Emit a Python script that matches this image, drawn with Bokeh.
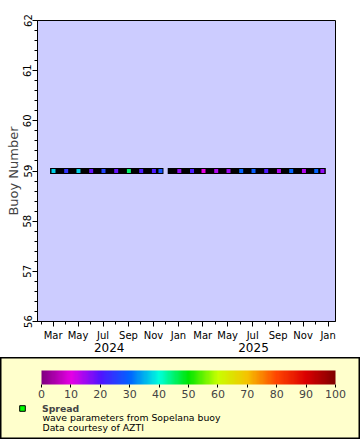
import numpy as np
import pandas as pd
from bokeh.plotting import figure
from bokeh.models import (Range1d, FixedTicker, SingleIntervalTicker, LinearAxis, ColumnDataSource,
                          LinearColorMapper, ColorBar, Legend, LegendItem, Label)
from bokeh.embed import file_html
from bokeh.resources import INLINE

# ---------------- data ----------------
buoy_number = 59
coverage_start = ["2024-03-01", "2024-12-13"]
coverage_end = ["2024-11-18", "2025-12-19"]

sample_dates = ["2024-03-02", "2024-04-02", "2024-05-02", "2024-06-02", "2024-07-02",
                "2024-08-02", "2024-09-02", "2024-10-02", "2024-11-02", "2024-11-18",
                "2025-01-03", "2025-02-03", "2025-03-03", "2025-04-03", "2025-05-03",
                "2025-06-03", "2025-07-03", "2025-08-03", "2025-09-03", "2025-10-03",
                "2025-11-03", "2025-12-03", "2025-12-18"]
spread_values = [37, 24, 37, 19, 26,
                 19, 45, 21, 21, 28,
                 16, 21, 10, 14, 15,
                 30, 29, 21, 14, 30,
                 14, 30, 16]

month_ticks = ["2024-03-01", "2024-05-01", "2024-07-01", "2024-09-01", "2024-11-01", "2025-01-01",
               "2025-03-01", "2025-05-01", "2025-07-01", "2025-09-01", "2025-11-01", "2026-01-01"]
month_labels = ["Mar", "May", "Jul", "Sep", "Nov", "Jan", "Mar", "May", "Jul", "Sep", "Nov", "Jan"]
year_label_dates = ["2024-07-16", "2025-07-03"]
year_labels = ["2024", "2025"]
x_start, x_end = "2024-01-23", "2026-01-19"
y_min, y_max = 56, 62
cbar_ticks = [0, 10, 20, 30, 40, 50, 60, 70, 80, 90, 100]

legend_title = "Spread"
legend_lines = ["wave parameters from Sopelana buoy", "Data courtesy of AZTI"]


def ms(s):
    return int(pd.Timestamp(s).value // 10**6)


# colour palette (styling)
anchor_pos = [0, 10, 20, 30, 40, 50, 60, 70, 80, 90, 100]
anchor_rgb = [(128, 0, 128), (230, 0, 230), (80, 20, 255), (0, 100, 255), (0, 255, 220),
              (0, 230, 0), (200, 255, 0), (245, 195, 0), (255, 70, 0), (220, 0, 0), (128, 0, 0)]
grid = np.linspace(0, 100, 256)
arr = np.array(anchor_rgb, dtype=float)
palette = ["#%02x%02x%02x" % tuple(int(round(np.interp(g, anchor_pos, arr[:, k]))) for k in range(3))
           for g in grid]
mapper = LinearColorMapper(palette=palette, low=0, high=100)

FONT = "DejaVu Sans"

# ---------------- main chart ----------------
p = figure(width=360, height=357, x_axis_type="datetime",
           x_range=Range1d(ms(x_start), ms(x_end)), y_range=Range1d(y_min, y_max),
           background_fill_color="#ccccff", border_fill_color="white",
           output_backend="svg", toolbar_location=None,
           min_border_left=37, min_border_right=25, min_border_top=20, min_border_bottom=36)
p.grid.visible = False
p.outline_line_color = "black"
p.outline_line_width = 1

seg_src = ColumnDataSource(dict(
    x0=pd.to_datetime(coverage_start), x1=pd.to_datetime(coverage_end),
    y=[buoy_number] * len(coverage_start)))
p.segment(x0="x0", y0="y", x1="x1", y1="y", source=seg_src, line_color="black",
          line_width=6, line_cap="square")

pt_src = ColumnDataSource(dict(date=pd.to_datetime(sample_dates), spread=spread_values,
                               buoy=[buoy_number] * len(sample_dates)))
p.scatter(x="date", y="buoy", source=pt_src, marker="square", size=4,
          fill_color={"field": "spread", "transform": mapper}, line_color=None)

# y axis
ya = p.yaxis[0]
ya.ticker = SingleIntervalTicker(interval=1, num_minor_ticks=5)
ya.axis_label = "Buoy Number"
ya.axis_label_text_font = FONT
ya.axis_label_text_font_style = "normal"
ya.axis_label_text_font_size = "13px"
ya.axis_label_standoff = 0
ya.major_label_orientation = "vertical"
ya.major_label_text_font = FONT
ya.major_label_text_font_size = "10px"
ya.major_label_standoff = 1

# x axis
xa = p.xaxis[0]
minor = [ms(d) for d in pd.date_range("2024-02-01", "2026-01-01", freq="MS")]
xa.ticker = FixedTicker(ticks=[ms(d) for d in month_ticks], minor_ticks=minor)
xa.major_label_overrides = {ms(d): lab for d, lab in zip(month_ticks, month_labels)}
xa.major_label_text_font = FONT
xa.major_label_text_font_size = "10px"
xa.major_label_standoff = 3

for ax in (xa, ya):
    ax.axis_line_color = "black"
    ax.major_tick_line_color = "black"
    ax.minor_tick_line_color = "black"
    ax.major_tick_in = 0
    ax.major_tick_out = 5
    ax.minor_tick_in = 0
    ax.minor_tick_out = 3
    ax.major_label_text_color = "black"

year_axis = LinearAxis(ticker=FixedTicker(ticks=[ms(d) for d in year_label_dates]),
                       major_label_overrides={ms(d): lab for d, lab in zip(year_label_dates, year_labels)},
                       axis_line_color=None, major_tick_line_color=None, minor_tick_line_color=None,
                       major_label_text_font=FONT, major_label_text_font_size="12px",
                       major_label_standoff=-7, major_label_text_color="black")
p.add_layout(year_axis, "below")

# ---------------- legend panel ----------------
p2 = figure(width=360, height=82, x_range=Range1d(0, 1), y_range=Range1d(0, 1),
            x_axis_location=None, y_axis_location=None,
            background_fill_color="#ffffcc", border_fill_color="#ffffcc",
            output_backend="svg", toolbar_location=None, min_border=0)
p2.grid.visible = False
p2.outline_line_color = "black"
p2.outline_line_width = 2

cbar = ColorBar(color_mapper=mapper, orientation="horizontal", location=(41, 39),
                width=294, height=14, padding=0, margin=0,
                ticker=FixedTicker(ticks=cbar_ticks),
                major_tick_line_color="black", major_tick_in=0, major_tick_out=3,
                major_label_text_font=FONT, major_label_text_font_size="11px",
                label_standoff=2, bar_line_color=None,
                background_fill_alpha=0, border_line_color=None)
p2.add_layout(cbar, "center")

# legend proxy: a single non-drawn (NaN) point only used for the legend swatch
marker_r = p2.scatter(x=[float("nan")], y=[float("nan")], marker="square",
                      fill_color="#00ff00", line_color="black", line_width=1)
leg = Legend(items=[LegendItem(label=legend_title, renderers=[marker_r])], location=(15, 24),
             padding=0, margin=0, spacing=0, border_line_color=None, background_fill_alpha=0,
             glyph_width=14, glyph_height=14, label_height=14, label_standoff=13,
             label_text_font=FONT, label_text_font_style="bold", label_text_font_size="9.3px")
p2.add_layout(leg, "center")

for i, line in enumerate(legend_lines):
    p2.add_layout(Label(x=42, y=21.7 - 9.4 * i, x_units="screen", y_units="screen", text=line,
                        text_font=FONT, text_font_size="9.3px", text_baseline="middle",
                        text_color="black"))

open("out.html", "w").write(file_html([p, p2], INLINE))
